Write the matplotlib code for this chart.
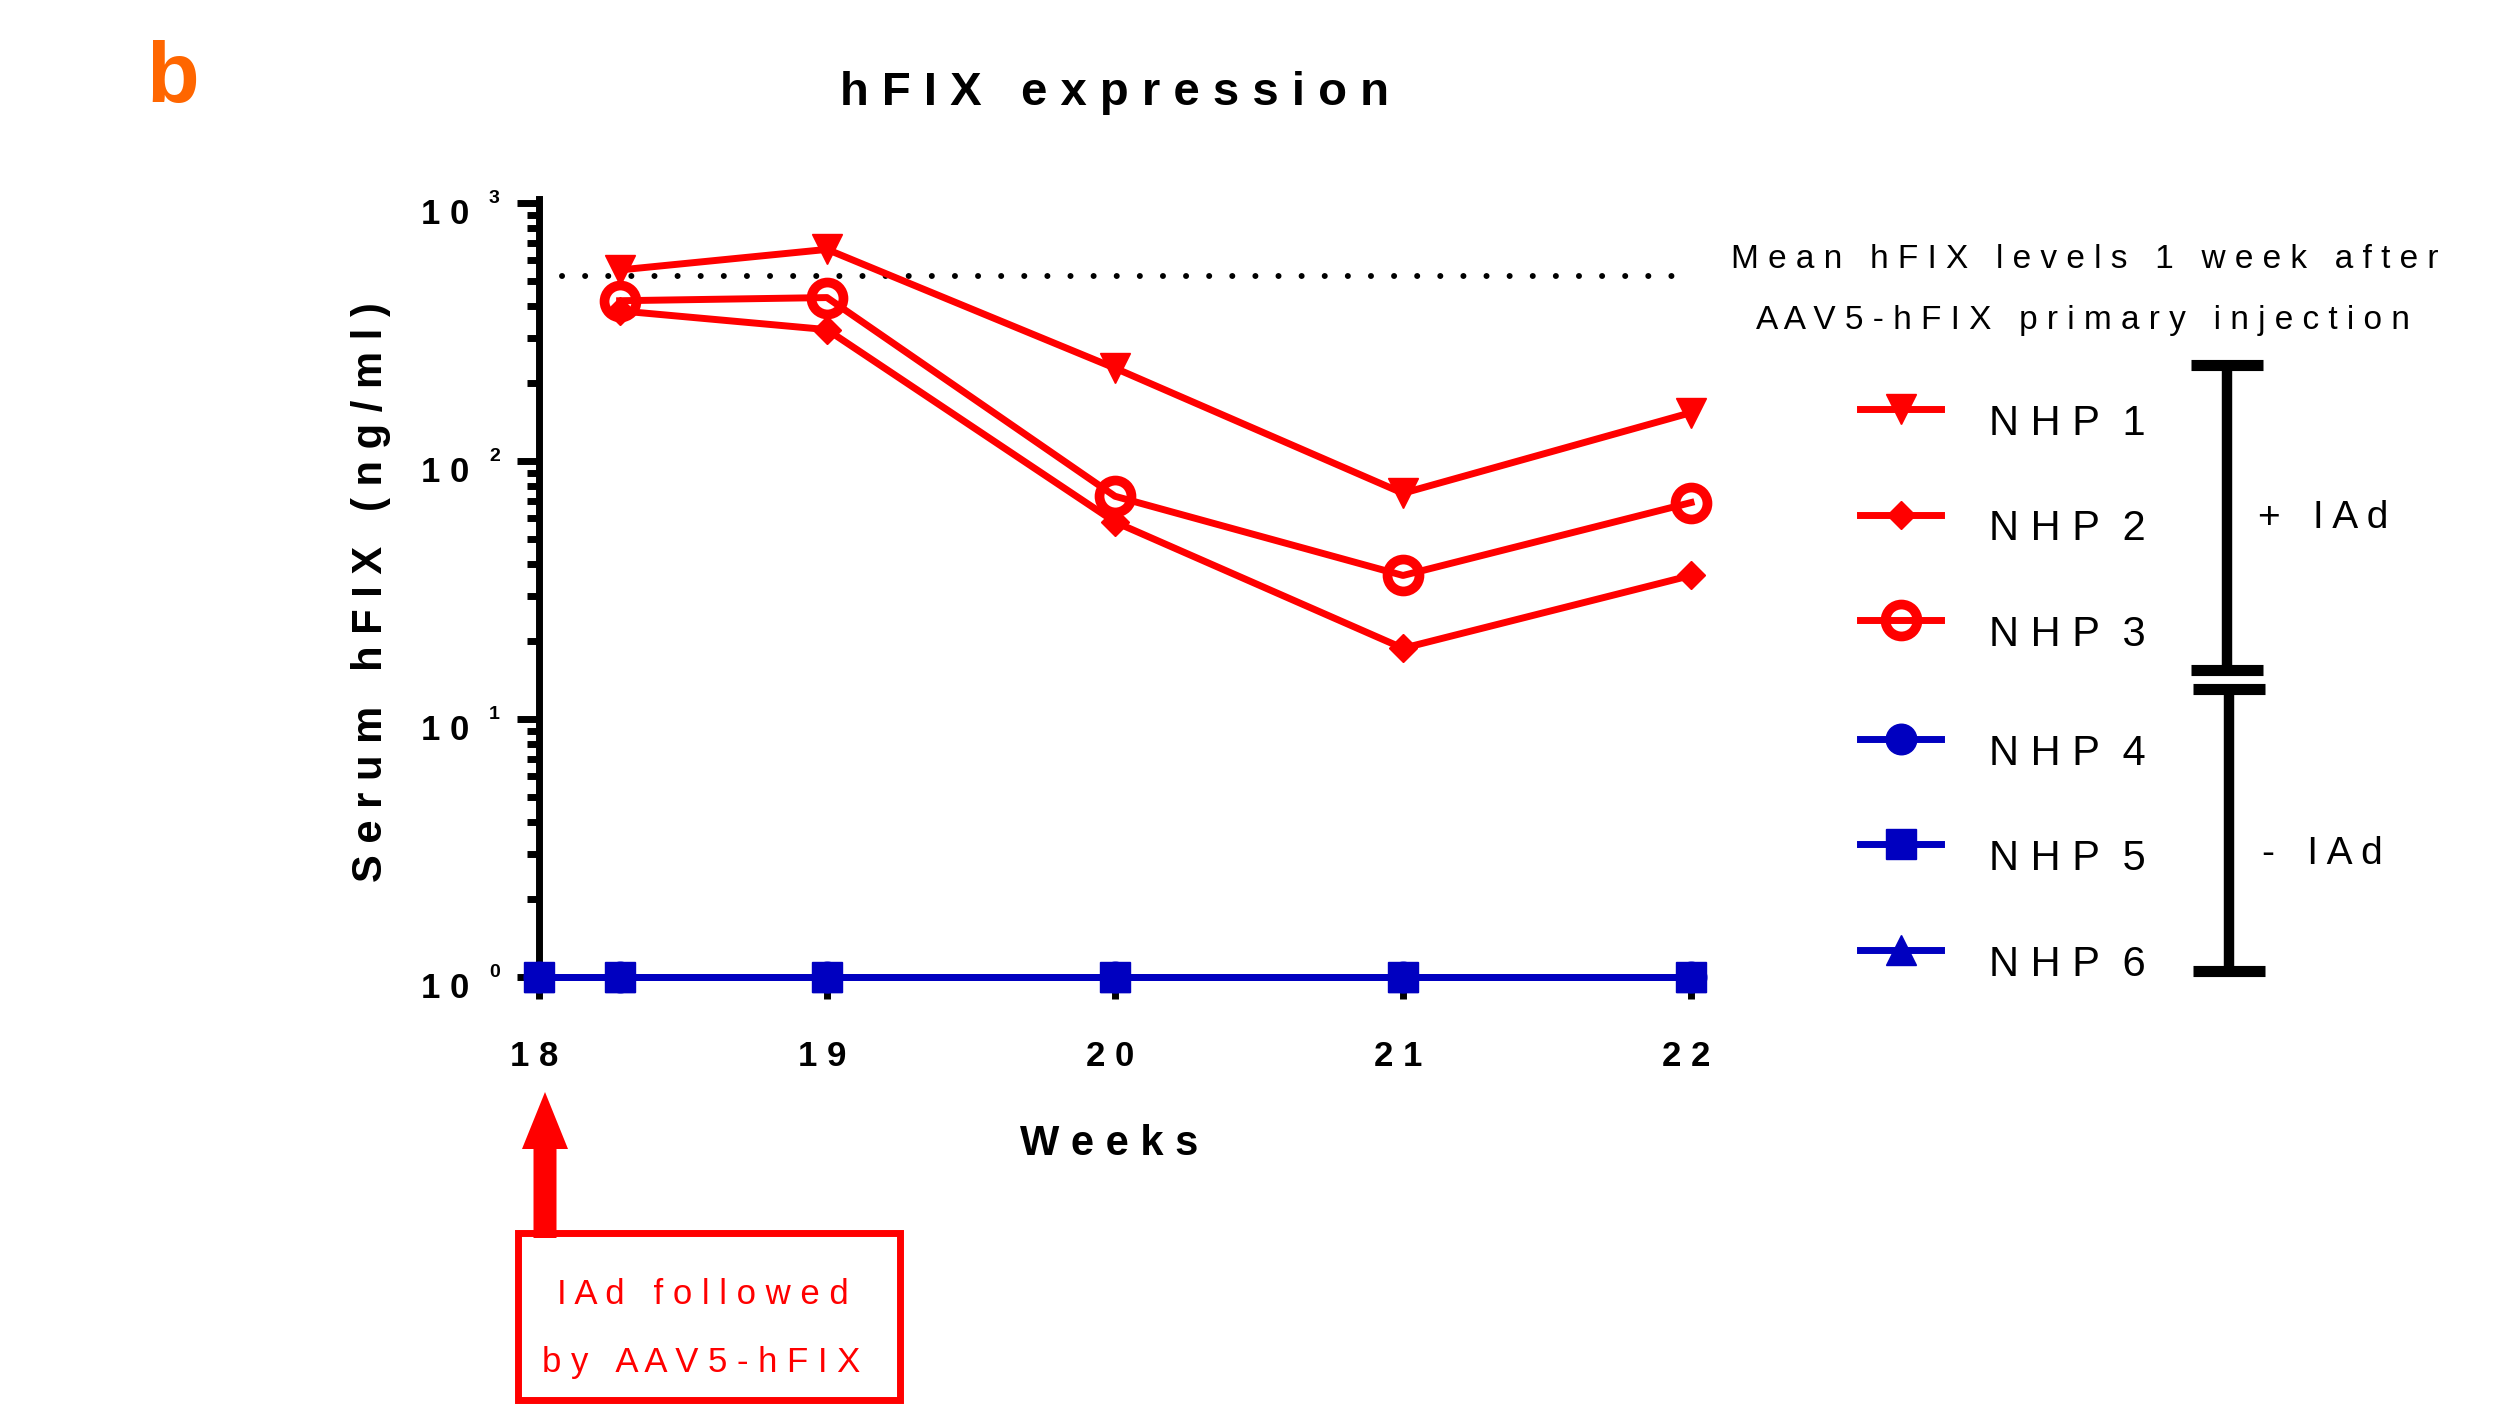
#!/usr/bin/env python3

import matplotlib

matplotlib.use("Agg")

from matplotlib import pyplot as plt
from matplotlib import patches
from matplotlib.lines import Line2D
from matplotlib.ticker import FixedLocator, NullFormatter
from matplotlib.transforms import Affine2D


# serum hFIX (ng/ml) per animal, by week
weeks_iad = [18.28, 19, 20, 21, 22]
weeks_ctrl = [18, 18.28, 19, 20, 21, 22]

nhp1 = [550, 661, 229, 75, 154]
nhp2 = [382, 323, 58, 18.8, 36]
nhp3 = [418, 430, 73, 36, 69]
nhp4 = [1, 1, 1, 1, 1, 1]
nhp5 = [1, 1, 1, 1, 1, 1]
nhp6 = [1, 1, 1, 1, 1, 1]

# mean level one week after the primary injection
primary_mean = 522
primary_mean_span = [18.08, 21.96]

week_ticks = [18, 19, 20, 21, 22]
decades = [0, 1, 2, 3]

RED = "#ff0000"
BLUE = "#0000c0"
ORANGE = "#ff6600"

W, H = 2508, 1406


def spaced(text, word_gap=3):
    # wide letter tracking, as in the original figure
    return (" " * word_gap).join(" ".join(w) for w in text.split(" "))


def main():
    plt.rcParams["font.family"] = ["Liberation Sans", "DejaVu Sans"]

    fig = plt.figure(figsize=(W / 100, H / 100), dpi=100)
    # pixel coordinates measured from the top-left corner
    px = Affine2D().scale(1 / W, -1 / H).translate(0, 1) + fig.transFigure

    ax = fig.add_axes([539 / W, (H - 977) / H, 1152 / W, 778 / H])
    ax.set_yscale("log")

    lw = 5
    h1, = ax.plot(weeks_iad, nhp1, color=RED, lw=lw, marker="v", ms=21,
                  label=spaced("NHP 1", 2), clip_on=False, zorder=5)
    h2, = ax.plot(weeks_iad, nhp2, color=RED, lw=lw, marker="D", ms=14,
                  label=spaced("NHP 2", 2), clip_on=False, zorder=5)
    h3, = ax.plot(weeks_iad, nhp3, color=RED, lw=lw, marker="o", ms=23,
                  mfc="none", mew=7, label=spaced("NHP 3", 2),
                  clip_on=False, zorder=5)
    h4, = ax.plot(weeks_ctrl, nhp4, color=BLUE, lw=lw, marker="o", ms=22,
                  label=spaced("NHP 4", 2), clip_on=False, zorder=5)
    h6, = ax.plot(weeks_ctrl, nhp6, color=BLUE, lw=lw, marker="^", ms=21,
                  label=spaced("NHP 6", 2), clip_on=False, zorder=5)
    h5, = ax.plot(weeks_ctrl, nhp5, color=BLUE, lw=lw, marker="s", ms=22,
                  label=spaced("NHP 5", 2), clip_on=False, zorder=6)

    ax.plot(primary_mean_span, [primary_mean, primary_mean], color="black",
            lw=4.3, linestyle=(0, (0.01, 3.86)), dash_capstyle="round",
            zorder=3)

    ax.set_xlim(18, 22)
    ax.set_ylim(1, 1000 * 10 ** (4 / 258))

    for side in ("top", "right"):
        ax.spines[side].set_visible(False)
    for side in ("left", "bottom"):
        ax.spines[side].set_linewidth(5)

    ax.xaxis.set_major_locator(FixedLocator(week_ticks))
    ax.xaxis.set_major_formatter(NullFormatter())
    ax.xaxis.set_minor_formatter(NullFormatter())
    ax.yaxis.set_major_formatter(NullFormatter())
    ax.yaxis.set_minor_formatter(NullFormatter())
    ax.tick_params(axis="x", which="major", direction="out", length=16, width=5)
    ax.tick_params(axis="x", which="minor", bottom=False)
    ax.tick_params(axis="y", which="major", direction="out", length=16, width=5)
    ax.tick_params(axis="y", which="minor", direction="out", length=8.6, width=5)

    # tick labels: "10" with a raised exponent, bold and tracked
    for d in decades:
        ax.annotate("1 0", xy=(0, 10 ** d), xycoords=("axes fraction", "data"),
                    xytext=(-70, -21), textcoords="offset pixels",
                    ha="right", va="baseline", fontsize=25, fontweight="bold")
        ax.annotate(str(d), xy=(0, 10 ** d), xycoords=("axes fraction", "data"),
                    xytext=(-50, 0), textcoords="offset pixels",
                    ha="left", va="baseline", fontsize=14, fontweight="bold")
    for w in week_ticks:
        ax.annotate(spaced(str(w)), xy=(w, 0), xycoords=("data", "axes fraction"),
                    xytext=(-5, -89), textcoords="offset pixels",
                    ha="center", va="baseline", fontsize=25, fontweight="bold")

    ax.set_title(spaced("hFIX expression"), fontsize=34, fontweight="bold", pad=68)
    fig.text(1109, 1155, spaced("Weeks"), transform=px, ha="center",
             va="baseline", fontsize=30, fontweight="bold")
    fig.text(371, 592, spaced("Serum hFIX (ng/ml)"), transform=px, rotation=90,
             ha="center", va="center", fontsize=30, fontweight="bold")

    fig.text(146, 102, "b", transform=px, fontsize=62, fontweight="bold",
             color=ORANGE, va="baseline")

    # reference level caption
    fig.text(2085, 268, spaced("Mean hFIX levels 1 week after"), transform=px,
             ha="center", va="baseline", fontsize=24)
    fig.text(2083, 329, spaced("AAV5-hFIX primary injection"), transform=px,
             ha="center", va="baseline", fontsize=24)

    # legends, one per treatment group
    leg_kw = dict(loc="upper left", bbox_transform=px, frameon=False,
                  fontsize=30, handlelength=1.95, handleheight=2.52,
                  labelspacing=0.65, handletextpad=1.15, borderpad=0,
                  borderaxespad=0, numpoints=1)
    fig.legend([h1, h2, h3], [h.get_label() for h in (h1, h2, h3)],
               bbox_to_anchor=(1860, 383), **leg_kw)
    fig.legend([h4, h5, h6], [h.get_label() for h in (h4, h5, h6)],
               bbox_to_anchor=(1860, 713), **leg_kw)

    def bracket(top, bottom, x):
        fig.add_artist(Line2D([x, x], [top, bottom], transform=px,
                              color="black", lw=7.5, solid_capstyle="butt"))
        for y in (top, bottom):
            fig.add_artist(Line2D([x - 36, x + 36], [y, y], transform=px,
                                  color="black", lw=8, solid_capstyle="butt"))

    bracket(365, 670, 2227)
    bracket(689, 971, 2229)
    fig.text(2258, 528, "+   I A d", transform=px, va="baseline", fontsize=28)
    fig.text(2262, 864, "-   I A d", transform=px, va="baseline", fontsize=28)

    # IAd dosing marker below week 18
    fig.add_artist(patches.FancyArrow(545, 1238, 0, -146, width=23,
                                      head_width=46, head_length=57,
                                      length_includes_head=True, transform=px,
                                      color=RED, lw=0))
    fig.add_artist(patches.Rectangle((518, 1233), 382, 167, transform=px,
                                     fill=False, ec=RED, lw=5))
    fig.text(703, 1304, spaced("IAd followed"), transform=px, ha="center",
             va="baseline", fontsize=25, color=RED)
    fig.text(701, 1372, spaced("by AAV5-hFIX"), transform=px, ha="center",
             va="baseline", fontsize=25, color=RED)

    fig.savefig("out.png", dpi=100)


if __name__ == "__main__":
    main()
